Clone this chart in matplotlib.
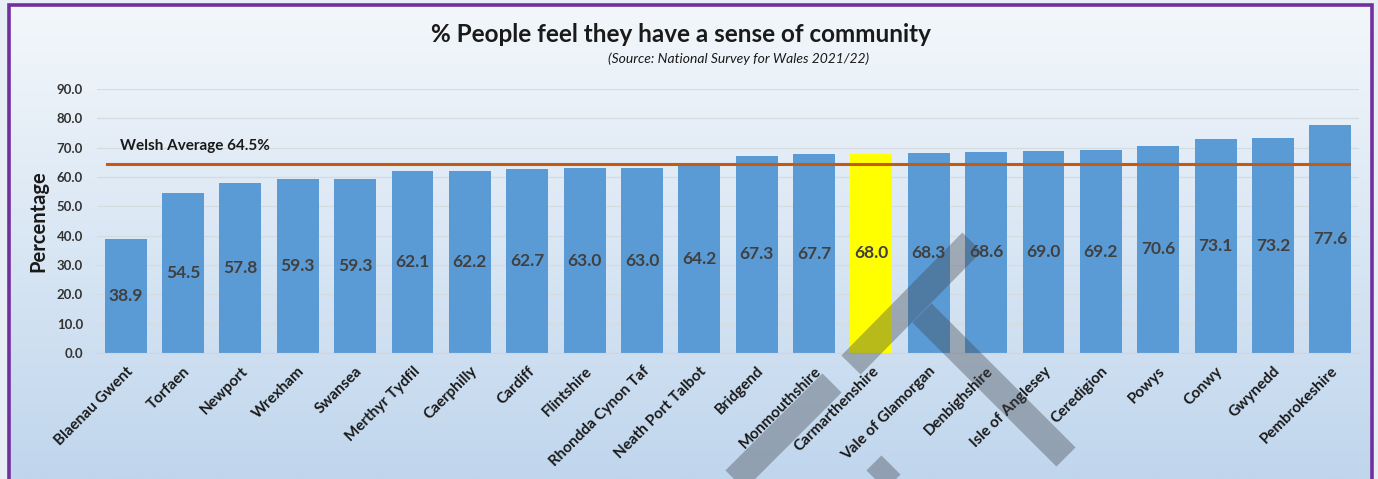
import numpy as np
import matplotlib.pyplot as plt
from matplotlib.patches import Rectangle
from matplotlib.lines import Line2D

plt.rcParams['font.family'] = ['Lato', 'DejaVu Sans']

# data
areas = ['Blaenau Gwent', 'Torfaen', 'Newport', 'Wrexham', 'Swansea',
         'Merthyr Tydfil', 'Caerphilly', 'Cardiff', 'Flintshire',
         'Rhondda Cynon Taf', 'Neath Port Talbot', 'Bridgend', 'Monmouthshire',
         'Carmarthenshire', 'Vale of Glamorgan', 'Denbighshire',
         'Isle of Anglesey', 'Ceredigion', 'Powys', 'Conwy', 'Gwynedd',
         'Pembrokeshire']
values = [38.9, 54.5, 57.8, 59.3, 59.3, 62.1, 62.2, 62.7, 63.0, 63.0, 64.2,
          67.3, 67.7, 68.0, 68.3, 68.6, 69.0, 69.2, 70.6, 73.1, 73.2, 77.6]
highlight = 'Carmarthenshire'
welsh_avg = 64.5
yticks = np.arange(0, 91, 10)

W, H = 1378, 479
fig = plt.figure(figsize=(W / 100, H / 100), dpi=100)
fig.patch.set_facecolor('#e8eef5')

# gradient panel inside the purple frame
bg = fig.add_axes([10 / W, 0, (1371 - 10) / W, 1 - 7 / H], zorder=-5)
grad = np.linspace(0, 1, 256)[:, None, None]
top = np.array([243, 247, 251]) / 255
bot = np.array([192, 214, 237]) / 255
img = top + (bot - top) * grad * np.ones((1, 1, 3))
bg.imshow(img, aspect='auto', extent=[0, 1, 0, 1], origin='upper')
bg.set_axis_off()

fig.add_artist(Rectangle((8.5 / W, -0.1), (1372 - 8.5) / W, 1.1 - 5.5 / H,
                         transform=fig.transFigure, fill=False,
                         edgecolor='#7030A0', linewidth=2.6, zorder=50))

ax = fig.add_axes([97 / W, 1 - 353 / H, (1359 - 97) / W, (353 - 89) / H])
ax.set_facecolor('none')

x = np.arange(len(areas))
colors = ['#FFFF00' if a == highlight else '#5B9BD5' for a in areas]
bars = ax.bar(x, values, width=0.73, color=colors, zorder=2)

for xi, v in zip(x, values):
    ax.text(xi, v / 2, f'{v:.1f}', ha='center', va='center', fontsize=12.5,
            fontweight='bold', color='#404040', zorder=3)

ax.plot([-0.33, len(areas) - 0.67], [welsh_avg, welsh_avg], color='#C55A11',
        lw=2.2, zorder=4)
ax.text(-0.1, welsh_avg + 6.2, f'Welsh Average {welsh_avg}%', fontsize=11,
        fontweight='bold', color='#1a1a1a', va='center', ha='left')

ax.set_xlim(-0.5, len(areas) - 0.5)
ax.set_ylim(0, 90)
ax.set_yticks(yticks)
ax.set_yticklabels([f'{t:.1f}' for t in yticks], fontsize=9.5, fontweight='bold',
                   color='#333333')
ax.set_xticks(x)
ax.set_xticklabels(areas, rotation=45, ha='right', rotation_mode='anchor',
                   fontsize=11, fontweight='bold', color='#1a1a1a')
ax.tick_params(length=0)
ax.tick_params(axis='y', pad=10)
ax.tick_params(axis='x', pad=8)
ax.grid(axis='y', color='#d6dbe0', lw=0.9, zorder=0)
for s in ['top', 'right', 'left']:
    ax.spines[s].set_visible(False)
ax.spines['bottom'].set_color('#d0d6dc')
ax.set_ylabel('Percentage', fontsize=14.5, fontweight='bold', color='#1a1a1a',
              labelpad=6)

fig.text(0.494, 1 - 35 / H, '% People feel they have a sense of community',
         ha='center', va='center', fontsize=17.5, fontweight='bold',
         color='#1a1a1a')
fig.text(739 / W, 1 - 59 / H, '(Source: National Survey for Wales 2021/22)',
         ha='center', va='center', fontsize=10, style='italic',
         color='#1a1a1a')

# watermark strokes laid over the picture (pixel coords)
def stroke(p0, p1):
    fig.add_artist(Line2D([p0[0] / W, p1[0] / W], [1 - p0[1] / H, 1 - p1[1] / H],
                          transform=fig.transFigure, color='#3c4048',
                          alpha=0.36, lw=19.5, solid_capstyle='butt',
                          zorder=100))

stroke((851, 365), (972, 242))
stroke((922, 313), (1066, 457))
stroke((832, 383), (712, 503))
stroke((891, 465), (861, 495))

fig.savefig('out.png', dpi=100, facecolor=fig.get_facecolor())
